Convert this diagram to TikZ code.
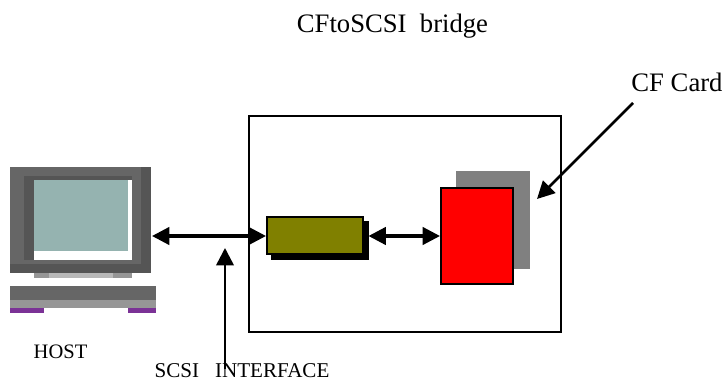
\documentclass[tikz,border=0pt]{standalone}
\usepackage{fontspec}
\setmainfont{Liberation Serif}
\usetikzlibrary{arrows.meta}
\definecolor{darkgrey}{HTML}{555555}
\definecolor{midgrey}{HTML}{666666}
\definecolor{lightgrey}{HTML}{969696}
\definecolor{screenblue}{HTML}{95B3B0}
\definecolor{keypurple}{HTML}{7B3296}
\definecolor{busolive}{HTML}{808000}
\tikzset{
	block/.style={draw=black, line width=1.5pt, inner sep=0pt, anchor=north west},
	label/.style={inner sep=0pt, font=\fontsize{15.4pt}{15.4pt}\selectfont},
	biglabel/.style={inner sep=0pt, font=\fontsize{20pt}{20pt}\selectfont},
	biarrow/.style={line width=2.4pt, {Triangle[length=13pt,width=13pt]}-{Triangle[length=13pt,width=13pt]}},
	onearrow/.style={line width=1.9pt, -{Triangle[length=13pt,width=13pt]}}
}
\begin{document}
\begin{tikzpicture}[x=0.75pt, y=-0.75pt]
	\useasboundingbox (0,0) rectangle (725,381);

	% Monitor
	\fill[midgrey] (9.5,167.5) rectangle (151,273);
	\fill[darkgrey] (141,167.5) rectangle (151,273);
	\fill[darkgrey] (9.5,264) rectangle (151,273);
	\fill[darkgrey] (24,176) rectangle (132,260);
	\fill[white] (33.5,180.5) rectangle (132,260);
	\fill[screenblue] (33.5,180.5) rectangle (127.5,251);

	% Stand and keyboard
	\fill[black!28] (34,273) rectangle (132,277.5);
	\fill[lightgrey] (34,273) rectangle (49,277.5);
	\fill[lightgrey] (113,273) rectangle (132,277.5);
	\fill[midgrey] (9.5,286) rectangle (156,299.5);
	\fill[lightgrey] (9.5,299.5) rectangle (156,308);
	\fill[keypurple] (9.5,308) rectangle (44,313);
	\fill[keypurple] (127.5,308) rectangle (156,313);

	% Bridge box
	\node[block, line width=1.2pt, minimum width=234pt, minimum height=162pt] (bridge) at (248.2,115.2) {};

	% Controller and card
	\node[block, fill=black, minimum width=72pt, minimum height=28.1pt] (busshadow) at (270.7,220.8) {};
	\node[block, fill=busolive, minimum width=72pt, minimum height=28.1pt] (bus) at (266,216) {};
	\node[block, draw=none, outer sep=0pt, fill=black!50, minimum width=55.5pt, minimum height=73.5pt] (cfslot) at (456,171) {};
	\node[block, fill=red, minimum width=54pt, minimum height=71.5pt] (cfcard) at (440,187.3) {};

	% Texts
	\node[biglabel] (title) at (392.5,26) {CFtoSCSI\ \ bridge};
	\node[biglabel] (cflabel) at (677,82) {CF Card};
	\node[label] (hostlabel) at (60.5,352) {HOST};
	\node[label, font=\fontsize{15.8pt}{15.8pt}\selectfont] (intlabel) at (242,371) {SCSI\hspace{12pt}INTERFACE};

	% Connector ends
	\coordinate (hostport) at (152,236);
	\coordinate (busport) at (368.5,236);
	\coordinate (bustip) at (225,248);
	\coordinate (cfstart) at (633,103);
	\coordinate (cftip) at (537,199);

	% Arrows
	\draw[biarrow] (hostport) -- (hostport -| bus.west);
	\draw[biarrow] (busport) -- (busport -| cfcard.west);
	\draw[onearrow] ([yshift=-4pt]intlabel.north -| bustip) -- (bustip);
	\draw[onearrow] (cfstart) -- (cftip);
\end{tikzpicture}
\end{document}
